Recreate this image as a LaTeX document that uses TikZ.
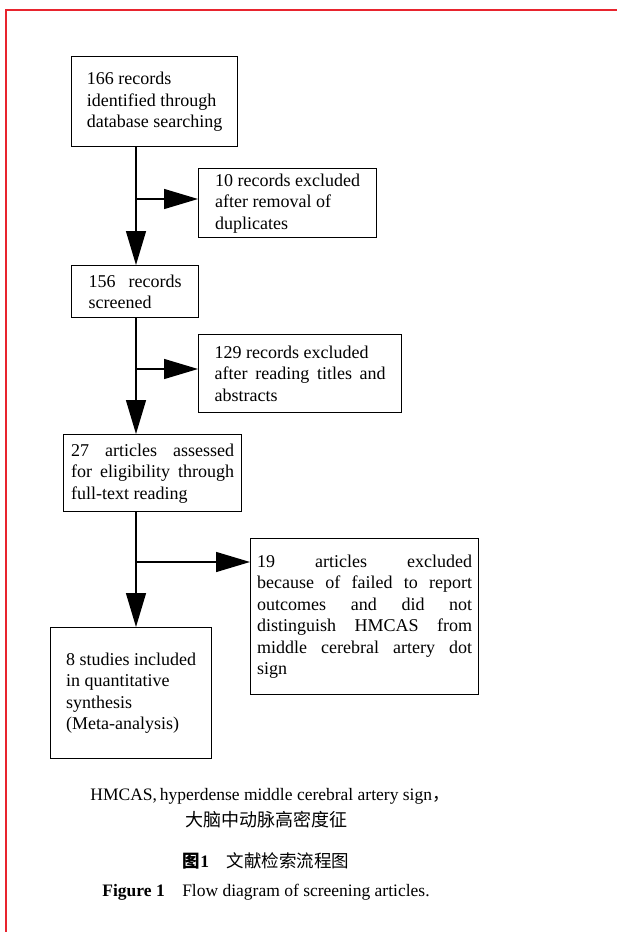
\documentclass[tikz,border=0pt]{standalone}
\usepackage{fontspec}
\setmainfont{Liberation Serif}
\newfontfamily\cjk{Noto Sans CJK SC}
\usetikzlibrary{positioning,arrows.meta}
\tolerance=10000
\hbadness=10000
\definecolor{framered}{RGB}{232,36,46}
\tikzstyle{block} = [draw, line width=1.4pt, rectangle, inner sep=0pt, font=\fontsize{18}{21.5}\selectfont]
\tikzstyle{lblock} = [block, align=left]
\tikzstyle{jblock} = [block, align=justify]
\tikzstyle{caption} = [anchor=base, inner sep=0pt, font=\fontsize{17.5}{20}\selectfont]
\tikzset{flow/.style={-{Triangle[length=34pt,width=20pt]}, line width=1.4pt}}

\begin{document}
\begin{tikzpicture}[x=1pt, y=-1pt]
        \useasboundingbox (0,0) rectangle (617,932);
        \draw [framered, line width=1.5pt] (617,10) -| (6,932);

        \node [lblock, anchor=north west, minimum width=166pt, minimum height=90pt] (rec) at (71,56)
            {166 records\\identified through\\database searching};
        \node [lblock, anchor=north west, minimum width=178pt, minimum height=69pt] (dup) at (198,168)
            {10 records excluded\\after removal of\\duplicates};
        \node [jblock, anchor=north west, minimum width=127pt, minimum height=52pt, text width=93pt] (scr) at (71,265)
            {156 records\linebreak screened};
        \node [jblock, anchor=north west, minimum width=203pt, minimum height=78pt, text width=171pt] (tia) at (198,334)
            {129 records excluded\\after reading titles and\linebreak abstracts};
        \node [jblock, anchor=north west, minimum width=178pt, minimum height=77pt, text width=163pt] (elig) at (63,434)
            {27 articles assessed\linebreak for eligibility through\linebreak full-text reading};
        \node [jblock, anchor=north west, minimum width=228pt, minimum height=156pt, text width=215pt] (excl) at (250,538)
            {19 articles excluded\linebreak because of failed to report\linebreak outcomes and did not\linebreak
             distinguish HMCAS from\linebreak middle cerebral artery dot\linebreak sign};
        \node [lblock, anchor=north west, minimum width=161pt, minimum height=131pt] (incl) at (50,627)
            {8 studies included\\in quantitative\\synthesis\\(Meta-analysis)};

        \coordinate (spine) at (136,0);
        \coordinate (j1) at (136,199);
        \coordinate (j2) at (136,369);
        \coordinate (j3) at (136,562);

        \draw [flow] (rec.south -| spine) -- (scr.north -| spine);
        \draw [flow] (j1) -- (j1 -| dup.west);
        \draw [flow] (scr.south -| spine) -- (elig.north -| spine);
        \draw [flow] (j2) -- (j2 -| tia.west);
        \draw [flow] (elig.south -| spine) -- (incl.north -| spine);
        \draw [flow] (j3) -- (j3 -| excl.west);

        \node [caption] (key) at (270,800) {HMCAS,\,hyperdense middle cerebral artery sign{\cjk ，}};
        \node [caption, font=\cjk\fontsize{18}{20}\selectfont] (keycn) at (266,826) {大脑中动脉高密度征};
        \node [caption] (figcn) at (266,867) {{\cjk\bfseries 图}\textbf{1}\quad{\cjk 文献检索流程图}};
        \node [caption] (figen) at (266,896) {\textbf{Figure 1}\quad Flow diagram of screening articles.};
    \end{tikzpicture}
\end{document}
